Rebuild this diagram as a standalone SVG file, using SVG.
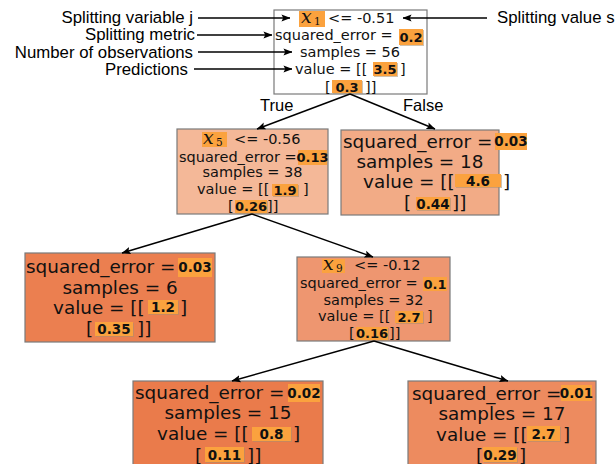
<svg xmlns="http://www.w3.org/2000/svg" width="615" height="464" viewBox="0 0 615 464">
<defs>
<marker id="ah" viewBox="0 0 10 10" refX="9.5" refY="5" markerWidth="9" markerHeight="9" markerUnits="userSpaceOnUse" orient="auto">
<path d="M0,1 L10,5 L0,9 L2,5 Z" fill="#000"/>
</marker>
<style>
.box{stroke:#7a7a7a;stroke-width:1.2}
.s{font-family:"DejaVu Sans",sans-serif;font-size:14.5px;fill:#111}
.l{font-family:"DejaVu Sans",sans-serif;font-size:18.4px;fill:#111}
.b{font-family:"DejaVu Sans",sans-serif;font-weight:bold;font-size:13px;fill:#111;text-anchor:middle}
.bl{font-family:"DejaVu Sans",sans-serif;font-weight:bold;font-size:13.5px;fill:#111;text-anchor:middle}
.m{text-anchor:middle}
.hl{fill:#fba23e}
.sh{fill:#a89070;opacity:0.55}
.mx{font-family:"DejaVu Serif",serif;font-style:italic;font-size:19px;fill:#111}
.ms{font-family:"DejaVu Serif",serif;font-size:10.5px;fill:#111}
.ann{font-family:"Liberation Sans",Arial,sans-serif;font-size:16.8px;fill:#000}
.lab{font-family:"Liberation Sans",Arial,sans-serif;font-size:16.5px;fill:#000}
.e{stroke:#000;stroke-width:1.4;fill:none}
</style>
</defs>
<rect width="615" height="464" fill="#fff"/>

<g id="annotations">
<text class="ann" x="193" y="23" text-anchor="end">Splitting variable j</text>
<text class="ann" x="195" y="40" text-anchor="end">Splitting metric</text>
<text class="ann" x="193" y="58" text-anchor="end">Number of observations</text>
<text class="ann" x="188" y="75" text-anchor="end">Predictions</text>
<text class="ann" x="497" y="23">Splitting value s</text>
<text class="lab" x="260" y="111">True</text>
<text class="lab" x="403" y="111">False</text>
</g>

<g id="root">
<rect class="box" x="274" y="10" width="153" height="84" fill="#ffffff"/>
<rect class="hl" x="299" y="11" width="26" height="16"/>
<text class="mx" x="301" y="23">x</text><text class="ms" x="314" y="25">1</text>
<text class="s" x="328" y="23">&lt;= -0.51</text>
<text class="s" x="275" y="40">squared_error =</text>
<rect class="sh" x="400" y="30" width="24" height="16"/><rect class="hl" x="399" y="29" width="24" height="16"/>
<text class="b" x="411" y="42">0.2</text>
<text class="s m" x="350" y="57">samples = 56</text>
<text class="s" x="295" y="74">value = [[</text>
<rect class="sh" x="374" y="63" width="24" height="14"/><rect class="hl" x="373" y="62" width="24" height="14"/>
<text class="b" x="385" y="74">3.5</text>
<text class="s" x="400" y="74">]</text>
<text class="s" x="325" y="92">[</text>
<rect class="sh" x="333" y="81" width="30" height="13"/><rect class="hl" x="332" y="80" width="30" height="13"/>
<text class="b" x="347" y="92">0.3</text>
<text class="s" x="365" y="92">]]</text>
</g>

<g id="node-x5">
<rect class="box" x="177" y="129" width="151" height="85" fill="#f4b898"/>
<rect class="hl" x="202" y="132" width="25" height="15"/>
<text class="mx" x="203" y="144">x</text><text class="ms" x="216" y="146">5</text>
<text class="s" x="234" y="144">&lt;= -0.56</text>
<text class="s" x="179" y="162">squared_error =</text>
<rect class="hl" x="298" y="150" width="29" height="15"/>
<text class="b" x="312.5" y="162">0.13</text>
<text class="s m" x="252.5" y="177">samples = 38</text>
<text class="s" x="197" y="194">value = [[</text>
<rect class="sh" x="273" y="185" width="26" height="12"/><rect class="hl" x="272" y="184" width="26" height="12"/>
<text class="b" x="285" y="195">1.9</text>
<text class="s" x="303" y="194">]</text>
<text class="s" x="228" y="211">[</text>
<rect class="sh" x="236" y="201" width="32" height="13"/><rect class="hl" x="235" y="200" width="32" height="13"/>
<text class="b" x="251" y="211">0.26</text>
<text class="s" x="267" y="211">]]</text>
</g>

<g id="node-right">
<rect class="box" x="341" y="130" width="158" height="85" fill="#f2ab86"/>
<text class="l" x="343" y="148">squared_error =</text>
<rect class="hl" x="495" y="133" width="32" height="17"/>
<text class="bl" x="511" y="146">0.03</text>
<text class="l m" x="420" y="168">samples = 18</text>
<text class="l" x="363" y="188">value = [[</text>
<rect class="sh" x="456" y="175" width="46" height="13"/><rect class="hl" x="455" y="174" width="46" height="13"/>
<text class="bl" x="478" y="186">4.6</text>
<text class="l" x="503" y="188">]</text>
<text class="l" x="404" y="209">[</text>
<rect class="sh" x="417" y="198" width="34" height="13"/><rect class="hl" x="416" y="197" width="34" height="13"/>
<text class="bl" x="433" y="209">0.44</text>
<text class="l" x="452" y="209">]]</text>
</g>

<g id="node-left2">
<rect class="box" x="25" y="253" width="190" height="89" fill="#eb7f50"/>
<text class="l" x="26" y="272.5">squared_error =</text>
<rect class="hl" x="178" y="258" width="34" height="19"/>
<text class="bl" x="195" y="272">0.03</text>
<text class="l m" x="120" y="293.5">samples = 6</text>
<text class="l" x="53" y="313.5">value = [[</text>
<rect class="sh" x="149" y="301" width="30" height="14"/><rect class="hl" x="148" y="300" width="30" height="14"/>
<text class="bl" x="163" y="312">1.2</text>
<text class="l" x="180" y="313.5">]</text>
<text class="l" x="86" y="334.5">[</text>
<rect class="sh" x="96" y="323" width="38" height="14"/><rect class="hl" x="95" y="322" width="38" height="14"/>
<text class="bl" x="114" y="334">0.35</text>
<text class="l" x="137" y="334.5">]]</text>
</g>

<g id="node-x9">
<rect class="box" x="297" y="257" width="153" height="84" fill="#ee9670"/>
<rect class="hl" x="322" y="259" width="23" height="14"/>
<text class="mx" x="323" y="270">x</text><text class="ms" x="336" y="272">9</text>
<text class="s" x="354" y="270">&lt;= -0.12</text>
<text class="s" x="300" y="288">squared_error =</text>
<rect class="hl" x="423" y="277" width="24" height="14"/>
<text class="b" x="435" y="289">0.1</text>
<text class="s m" x="373.5" y="305">samples = 32</text>
<text class="s" x="318" y="321">value = [[</text>
<rect class="sh" x="396" y="312" width="28" height="12"/><rect class="hl" x="395" y="311" width="28" height="12"/>
<text class="b" x="409" y="322">2.7</text>
<text class="s" x="427" y="321">]</text>
<text class="s" x="349" y="338">[</text>
<rect class="sh" x="357" y="328" width="32" height="13"/><rect class="hl" x="356" y="327" width="32" height="13"/>
<text class="b" x="372" y="338">0.16</text>
<text class="s" x="389" y="338">]]</text>
</g>

<g id="node-bl">
<rect class="box" x="133" y="381" width="190" height="90" fill="#ea7b4b"/>
<text class="l" x="135" y="398.5">squared_error =</text>
<rect class="hl" x="288" y="384" width="32" height="18"/>
<text class="bl" x="304" y="398">0.02</text>
<text class="l m" x="228" y="418.5">samples = 15</text>
<text class="l" x="157" y="439.5">value = [[</text>
<rect class="sh" x="253" y="428" width="39" height="14"/><rect class="hl" x="252" y="427" width="39" height="14"/>
<text class="bl" x="271.5" y="439">0.8</text>
<text class="l" x="293" y="439.5">]</text>
<text class="l" x="195" y="461.5">[</text>
<rect class="sh" x="206" y="448" width="39" height="15"/><rect class="hl" x="205" y="447" width="39" height="15"/>
<text class="bl" x="224.5" y="460">0.11</text>
<text class="l" x="247" y="461.5">]]</text>
</g>

<g id="node-br">
<rect class="box" x="408" y="381" width="188" height="90" fill="#ed8b5f"/>
<text class="l" x="412" y="399.5">squared_error =</text>
<rect class="hl" x="561" y="385" width="31" height="16"/>
<text class="bl" x="576.5" y="398">0.01</text>
<text class="l m" x="502" y="419.5">samples = 17</text>
<text class="l" x="436" y="440.5">value = [[</text>
<rect class="sh" x="528" y="427" width="33" height="15"/><rect class="hl" x="527" y="426" width="33" height="15"/>
<text class="bl" x="543.5" y="439">2.7</text>
<text class="l" x="563" y="440.5">]</text>
<text class="l" x="476" y="461.5">[</text>
<rect class="sh" x="484" y="448" width="34" height="15"/><rect class="hl" x="483" y="447" width="34" height="15"/>
<text class="bl" x="500" y="460">0.29</text>
<text class="l" x="519" y="461.5">]</text>
</g>

<g id="connectors">
<line class="e" marker-end="url(#ah)" x1="198" y1="18" x2="290" y2="18"/>
<line class="e" marker-end="url(#ah)" x1="197" y1="35" x2="272" y2="35"/>
<line class="e" marker-end="url(#ah)" x1="198" y1="52" x2="292" y2="52"/>
<line class="e" marker-end="url(#ah)" x1="194" y1="69" x2="292" y2="69"/>
<line class="e" marker-end="url(#ah)" x1="487" y1="18" x2="403" y2="18"/>
<line class="e" marker-end="url(#ah)" x1="350" y1="94" x2="257" y2="129"/>
<line class="e" marker-end="url(#ah)" x1="350" y1="94" x2="435" y2="129"/>
<line class="e" marker-end="url(#ah)" x1="252" y1="214" x2="122" y2="253"/>
<line class="e" marker-end="url(#ah)" x1="252" y1="214" x2="373" y2="257"/>
<line class="e" marker-end="url(#ah)" x1="374" y1="341" x2="232" y2="381"/>
<line class="e" marker-end="url(#ah)" x1="374" y1="341" x2="508" y2="381"/>
</g>
</svg>
